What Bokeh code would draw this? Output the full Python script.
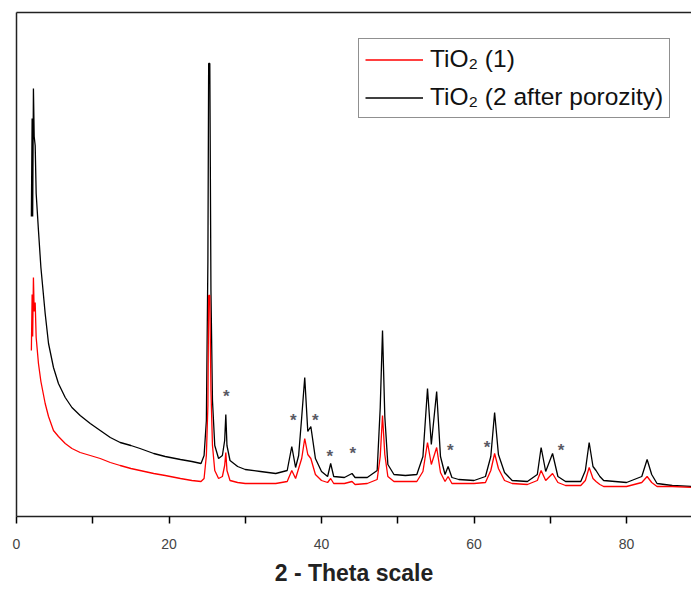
from bokeh.plotting import figure
from bokeh.models import LinearAxis, FixedTicker, Legend, LegendItem
from bokeh.core.properties import value
from bokeh.embed import file_html
from bokeh.resources import INLINE

# 2-theta positions (degrees) shared by both patterns
two_theta = [1.95, 2.05, 2.12, 2.22, 2.32, 2.45, 2.58, 2.88, 3.2, 3.76,
             4.2, 4.85, 5.5, 6.39, 7.27, 8.35, 9.67, 10.98, 12.3, 13.6,
             15.0, 16.2, 18.0, 19.5, 21.5, 23.0, 24.2, 24.6, 24.9, 25.1,
             25.2, 25.35, 25.5, 25.7, 26.0, 26.5, 27.0, 27.3, 27.45, 27.6,
             28.0, 29.0, 30.0, 32.0, 34.0, 35.5, 36.1, 36.6, 37.0, 37.4,
             37.8, 38.2, 38.6, 39.2, 40.0, 40.8, 41.2, 41.6, 43.0, 44.0,
             44.4, 46.0, 47.3, 47.7, 48.0, 48.3, 48.7, 49.5, 51.0, 52.5,
             53.3, 53.9, 54.4, 55.1, 55.6, 56.2, 56.6, 57.1, 58.0, 60.0,
             61.5, 62.2, 62.7, 63.2, 64.0, 65.0, 67.0, 68.3, 68.8, 69.4,
             70.3, 71.0, 72.0, 74.0, 74.6, 75.1, 75.6, 76.0, 76.5, 77.0,
             80.0, 82.0, 82.7, 83.3, 84.0, 86.0, 88.6]

# intensity (a.u.) TiO2 (2 after porozity) - black
tio2_2 = [300, 398, 300, 428, 380, 371, 323, 286, 249, 203,
          173, 149, 133, 119, 109, 101, 93, 86, 79, 74,
          71, 68, 63, 60, 57, 55, 53, 61, 96, 256,
          453, 453, 226, 116, 71, 58, 61, 76, 102, 71,
          56, 50, 47, 45, 43, 46, 70, 49, 61, 99,
          139, 85, 90, 58, 45, 40, 53, 40, 39, 43,
          39, 39, 46, 109, 186, 100, 52, 42, 41, 42,
          60, 128, 72, 125, 60, 42, 50, 39, 37, 36,
          40, 60, 104, 62, 44, 36, 35, 42, 69, 45,
          63, 40, 35, 35, 46, 74, 50, 46, 40, 36,
          34, 40, 57, 42, 33, 31, 30]

# intensity (a.u.) TiO2 (1) - red
tio2_1 = [166, 222, 180, 239, 205, 214, 179, 153, 135, 113,
          100, 86, 80, 73, 68, 64, 61, 58, 54, 51,
          48, 46, 43, 41, 38, 36, 35, 38, 61, 111,
          221, 221, 126, 71, 46, 38, 40, 51, 64, 46,
          36, 34, 33, 33, 33, 35, 46, 38, 48, 58,
          78, 62, 58, 42, 36, 34, 38, 33, 33, 35,
          32, 33, 37, 60, 101, 62, 40, 35, 35, 35,
          45, 74, 52, 69, 44, 35, 40, 33, 33, 33,
          34, 46, 63, 48, 36, 33, 32, 36, 46, 36,
          43, 34, 31, 31, 36, 49, 38, 35, 32, 30,
          30, 34, 40, 34, 30, 30, 29]

assert len(two_theta) == len(tio2_1) == len(tio2_2)

# secondary-phase markers
star_x = [27.5, 36.3, 39.2, 41.1, 44.1, 56.9, 61.7, 71.4]
star_y = [124, 100, 100, 64, 67, 70, 73, 70]
star_text = ["*"] * len(star_x)

x_ticks = [0, 20, 40, 60, 80]
x_minor = [10, 30, 50, 70]
series_labels = ["TiO₂ (1)", "TiO₂ (2 after porozity)"]

FONT = "Liberation Sans"

p = figure(width=691, height=591, x_range=(0, 88.52), y_range=(0, 504),
           output_backend="svg", toolbar_location=None,
           min_border_left=16, min_border_right=0, min_border_top=12,
           min_border_bottom=75, outline_line_color=None)
p.background_fill_color = "white"
p.border_fill_color = "white"
p.xgrid.grid_line_color = None
p.ygrid.grid_line_color = None

r_black = p.line(two_theta, tio2_2, line_color="#000000", line_width=1.3)
r_red = p.line(two_theta, tio2_1, line_color="#ff0000", line_width=1.3)

p.text(star_x, star_y, text=star_text, text_align="center", text_baseline="middle",
       text_font=value(FONT), text_font_size="17px", text_color="#5a5a64",
       text_font_style="bold", y_offset=4)

# bottom axis
xa = p.xaxis[0]
xa.ticker = FixedTicker(ticks=x_ticks, minor_ticks=x_minor)
xa.axis_line_width = 1.5
xa.axis_line_color = "#222222"
xa.major_tick_out = 7
xa.major_tick_in = 0
xa.minor_tick_out = 7
xa.minor_tick_in = 0
xa.major_tick_line_width = 1.5
xa.minor_tick_line_width = 1.5
xa.major_label_text_font = FONT
xa.major_label_text_font_size = "14px"
xa.major_label_text_color = "#444444"
xa.major_label_standoff = 15
xa.axis_label = "2 - Theta scale"
xa.axis_label_text_font = FONT
xa.axis_label_text_font_size = "23px"
xa.axis_label_text_font_style = "bold"
xa.axis_label_text_color = "#222222"
xa.axis_label_standoff = 8

# left axis: plain line
ya = p.yaxis[0]
ya.ticker = FixedTicker(ticks=[])
ya.axis_line_width = 1.5
ya.axis_line_color = "#222222"
ya.major_tick_line_color = None
ya.minor_tick_line_color = None
ya.major_label_standoff = 0

# top frame line
top = LinearAxis(ticker=FixedTicker(ticks=[]), axis_line_width=1.5, axis_line_color="#222222",
                 major_tick_line_color=None, minor_tick_line_color=None,
                 major_label_standoff=0)
p.add_layout(top, "above")

lg = Legend(items=[LegendItem(label=series_labels[0], renderers=[r_red]),
                   LegendItem(label=series_labels[1], renderers=[r_black])])
lg.location = (342, 398)
lg.label_text_font = FONT
lg.label_text_font_size = "24.5px"
lg.label_text_color = "#111111"
lg.glyph_width = 58
lg.glyph_height = 27
lg.label_height = 27
lg.label_standoff = 7
lg.spacing = 10
lg.padding = 6
lg.margin = 0
lg.border_line_color = "#222222"
lg.border_line_width = 1
lg.background_fill_alpha = 1.0
p.add_layout(lg, "center")

open("out.html", "w").write(file_html(p, INLINE))
